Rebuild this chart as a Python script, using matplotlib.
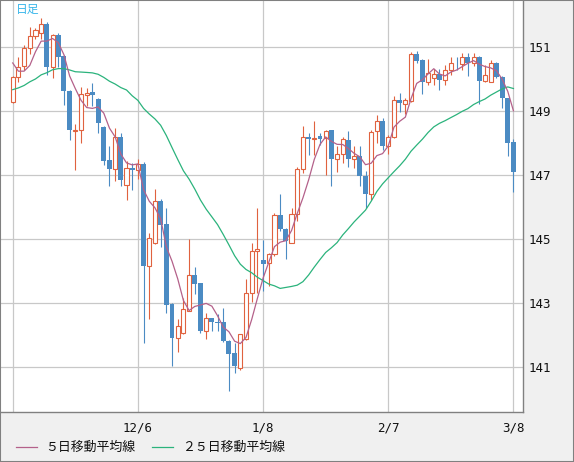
import matplotlib
matplotlib.use("Agg")
import matplotlib.pyplot as plt
from matplotlib.patches import Rectangle
import numpy as np
import pandas as pd

# daily candles, 11/6 .. 3/8
opens = [149.30, 150.06, 150.41, 150.96, 151.34, 151.43, 151.72, 150.39, 151.37, 150.72,
         149.64, 148.38, 148.40, 149.51, 149.59, 149.39, 148.50, 147.48, 147.21, 148.19,
         146.70, 147.23, 147.17, 147.36, 144.17, 144.87, 146.21, 145.49, 142.97, 141.93,
         142.09, 142.77, 143.88, 143.63, 142.15, 142.53, 142.42, 142.41, 141.83, 141.45,
         140.98, 141.89, 143.34, 144.63, 144.37, 144.25, 144.53, 145.77, 145.33, 144.89,
         145.80, 147.20, 148.19, 148.13, 148.23, 148.16, 148.40, 147.51, 147.66, 148.11,
         147.51, 147.61, 146.99, 146.43, 148.37, 148.70, 147.92, 148.18, 149.35, 149.23,
         149.33, 150.80, 150.60, 149.92, 150.03, 150.16, 149.97, 150.28, 150.52, 150.47,
         150.70, 150.49, 150.70, 149.95, 149.92, 150.51, 150.08, 149.40, 148.05]
highs = [150.10, 150.68, 151.06, 151.63, 151.61, 151.91, 151.79, 151.40, 151.43, 150.75,
         149.66, 148.60, 149.75, 149.72, 149.88, 149.42, 148.55, 147.92, 148.47, 148.33,
         147.43, 147.38, 147.51, 147.40, 145.20, 146.58, 146.25, 145.98, 143.00, 142.51,
         143.18, 145.00, 144.15, 143.65, 142.70, 142.55, 142.66, 142.87, 141.85, 141.76,
         142.06, 143.75, 144.87, 145.98, 144.98, 144.56, 145.83, 146.43, 145.35, 145.98,
         147.25, 148.54, 148.32, 148.68, 148.32, 148.40, 148.42, 147.92, 148.21, 148.37,
         147.92, 147.92, 147.12, 148.40, 148.88, 148.80, 148.25, 149.48, 149.58, 149.40,
         150.85, 150.88, 150.62, 150.62, 150.31, 150.31, 150.44, 150.70, 150.70, 150.82,
         150.82, 150.82, 150.72, 150.44, 150.60, 150.54, 150.10, 149.42, 148.13]
lows = [149.25, 149.92, 150.28, 150.77, 151.24, 151.24, 150.13, 150.03, 150.39, 149.20,
        148.09, 147.15, 148.00, 149.15, 149.15, 148.31, 147.31, 146.65, 146.83, 146.65,
        146.22, 146.55, 146.88, 141.76, 142.51, 144.85, 144.77, 142.70, 141.04, 141.47,
        142.04, 142.75, 143.29, 142.07, 141.89, 142.15, 142.15, 141.80, 140.28, 140.83,
        140.93, 141.87, 143.03, 143.34, 143.40, 143.54, 144.48, 145.26, 144.40, 144.87,
        145.57, 147.07, 147.64, 147.64, 147.95, 147.00, 146.65, 147.09, 147.38, 147.26,
        147.23, 146.65, 145.98, 146.24, 148.02, 147.80, 147.65, 148.15, 148.99, 148.90,
        149.30, 150.50, 149.54, 149.82, 149.82, 149.66, 149.82, 150.13, 150.28, 150.28,
        150.10, 150.40, 149.23, 149.92, 149.90, 150.03, 149.09, 147.61, 146.47]
closes = [150.06, 150.39, 150.96, 151.34, 151.53, 151.72, 150.39, 151.37, 150.70, 149.64,
          148.40, 148.42, 149.55, 149.56, 149.51, 148.62, 147.46, 147.21, 148.19, 146.84,
          147.23, 147.15, 147.36, 144.17, 145.03, 146.21, 145.46, 142.95, 141.93, 142.28,
          142.84, 143.88, 143.60, 142.15, 142.53, 142.41, 142.38, 141.83, 141.42, 141.06,
          142.04, 143.34, 144.63, 144.71, 144.22, 144.53, 145.77, 145.33, 144.94, 145.80,
          147.20, 148.19, 148.13, 148.16, 148.13, 148.37, 147.51, 147.66, 148.13, 147.51,
          147.61, 146.97, 146.43, 148.36, 148.70, 147.92, 148.18, 149.35, 149.27, 149.35,
          150.80, 150.57, 149.92, 150.18, 150.16, 149.97, 150.28, 150.52, 150.49, 150.70,
          150.49, 150.70, 149.95, 150.13, 150.49, 150.06, 149.40, 148.02, 147.09]

# closes of the 24 sessions before the first candle (only used for the averages)
prior_closes = [149.03, 149.05, 148.50, 149.30, 148.50, 148.70, 149.10, 149.80, 149.60, 149.50,
                149.80, 149.80, 149.85, 149.85, 149.70, 149.90, 150.20, 150.40, 149.60, 149.10,
                151.68, 150.95, 150.45, 149.39]

date_labels = ["12/6", "1/8", "2/7", "3/8"]
date_index = [22, 44, 66, 88]
y_ticks = [141, 143, 145, 147, 149, 151]

UP = "#e0623f"
DOWN = "#4b8bc3"
MA5 = "#b4618a"
MA25 = "#2bb37c"
GRID = "#c8c8c8"

n = len(closes)
x = np.arange(n)
allc = pd.Series(prior_closes + closes)
ma5 = allc.rolling(5).mean().values[len(prior_closes):]
ma25 = allc.rolling(25).mean().values[len(prior_closes):]

fig = plt.figure(figsize=(5.74, 4.62), dpi=100, facecolor="#f0f0f0")
ax = fig.add_axes([1 / 574, 50 / 462, 522 / 574, 411 / 462])
ax.set_facecolor("white")

ax.set_xlim(-2.06, 89.68)
ax.set_ylim(139.61, 152.44)

for v in y_ticks:
    ax.axhline(v, color=GRID, lw=0.9, zorder=0)
for i in [0] + date_index:
    ax.axvline(i, color=GRID, lw=0.9, zorder=0)

for i in range(n):
    o, h, l, c = opens[i], highs[i], lows[i], closes[i]
    up = c >= o
    col = UP if up else DOWN
    ax.vlines(i, l, h, color=col, lw=0.8, zorder=2)
    lo, hi = min(o, c), max(o, c)
    if hi - lo < 0.03:
        hi = lo + 0.03
    if up:
        ax.add_patch(Rectangle((i - 0.36, lo), 0.72, hi - lo, facecolor="white",
                               edgecolor=col, lw=0.8, zorder=3))
    else:
        ax.add_patch(Rectangle((i - 0.43, lo), 0.86, hi - lo, facecolor=col,
                               edgecolor="none", zorder=3))

ax.plot(x, ma25, color=MA25, lw=0.9, zorder=4)
ax.plot(x, ma5, color=MA5, lw=0.9, zorder=4)

ax.yaxis.tick_right()
ax.set_yticks(y_ticks)
ax.set_yticklabels([str(v) for v in y_ticks], fontsize=9, color="#111111",
                   family="DejaVu Sans Mono")
ax.tick_params(axis="y", length=0, pad=4)
ax.set_xticks(date_index)
ax.set_xticklabels(date_labels, fontsize=9, color="#111111", family="DejaVu Sans Mono")
ax.tick_params(axis="x", length=0, pad=7)

for s in ["left", "top"]:
    ax.spines[s].set_visible(False)
for s in ["right", "bottom"]:
    ax.spines[s].set_color("#808080")
    ax.spines[s].set_linewidth(1)

jp = ["Noto Sans CJK JP", "DejaVu Sans"]
fig.text(16 / 574, 1 - 3 / 462, "日足", ha="left", va="top", fontsize=8.5,
         color="#38b6ea", family=jp)

# legend row
fig.add_artist(plt.Line2D([16 / 574, 37 / 574], [15 / 462, 15 / 462], color=MA5, lw=0.9))
fig.text(45 / 574, 15 / 462, "５日移動平均線", fontsize=9.3, va="center", family=jp,
         color="#111111")
fig.add_artist(plt.Line2D([152 / 574, 173 / 574], [15 / 462, 15 / 462], color=MA25, lw=0.9))
fig.text(182 / 574, 15 / 462, "２５日移動平均線", fontsize=9.3, va="center", family=jp,
         color="#111111")

fig.add_artist(Rectangle((0, 0), 1, 1, transform=fig.transFigure, fill=False,
                         edgecolor="#808080", lw=1.5))

fig.savefig("out.png", dpi=100, facecolor=fig.get_facecolor())
